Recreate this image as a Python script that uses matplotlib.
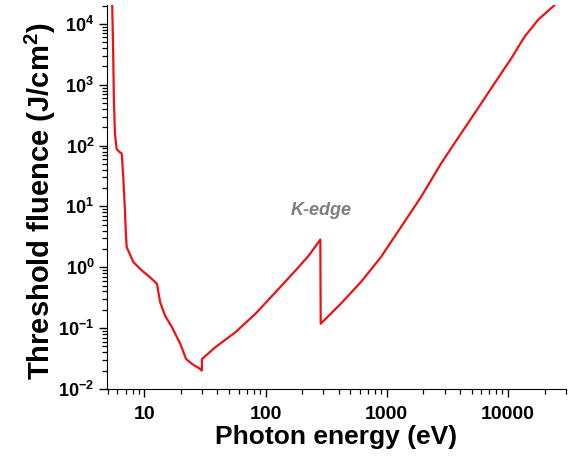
import matplotlib
matplotlib.use("Agg")
import matplotlib.pyplot as plt
from matplotlib.ticker import LogLocator, NullFormatter, FixedLocator, FuncFormatter

plt.rcParams["font.family"] = ["Liberation Sans", "DejaVu Sans"]
plt.rcParams["font.weight"] = "bold"
plt.rcParams["mathtext.fontset"] = "custom"
plt.rcParams["mathtext.rm"] = "Liberation Sans:bold"
plt.rcParams["mathtext.bf"] = "Liberation Sans:bold"
plt.rcParams["mathtext.default"] = "bf"

# threshold fluence vs photon energy
energy = [5.43, 5.53, 5.61, 5.72, 5.91, 6.18, 6.51, 6.70, 6.92, 7.02, 7.15,
          8.11, 9.51, 11.1, 12.7, 13.5, 14.8, 16.9, 19.8, 22.1, 24.7, 28.9,
          29.8, 29.9, 38.5, 56.4, 82.5, 121, 177, 228, 283,
          285, 417, 611, 894, 1310, 1915, 2805, 3614, 5297, 7745,
          10660, 13720, 17700, 24300]
fluence = [20600, 3740, 560, 160, 88, 80, 74, 30.6, 8.65, 4.05, 2.15,
           1.22, 0.889, 0.690, 0.537, 0.267, 0.161, 0.1035, 0.055, 0.031, 0.0258, 0.0213,
           0.020, 0.031, 0.0484, 0.0855, 0.172, 0.390, 0.889, 1.57, 2.85,
           0.118, 0.251, 0.570, 1.47, 4.59, 14.3, 50.9, 109, 339, 1059,
           2735, 6210, 11700, 20600]

xticks = [10, 100, 1000, 10000]
yticks = [1e-2, 1e-1, 1e0, 1e1, 1e2, 1e3, 1e4]
edge_label = "K-edge"
edge_pos = (290, 8.65)

fig = plt.figure(figsize=(5.71, 4.57), dpi=100)
ax = fig.add_axes([0.187, 0.149, 0.804, 0.840])

ax.plot(energy, fluence, color="#ee1111", linewidth=1.6)
ax.set_xscale("log")
ax.set_yscale("log")
ax.set_xlim(4.9, 30000)
ax.set_ylim(1e-2, 2.05e4)

ax.xaxis.set_major_locator(FixedLocator(xticks))
ax.xaxis.set_major_formatter(FuncFormatter(lambda v, p: f"{v:g}"))
ax.xaxis.set_minor_locator(LogLocator(base=10, subs=range(2, 10), numticks=20))
ax.xaxis.set_minor_formatter(NullFormatter())
ax.yaxis.set_major_locator(FixedLocator(yticks))
ax.yaxis.set_minor_locator(LogLocator(base=10, subs=range(2, 10), numticks=20))
ax.yaxis.set_minor_formatter(NullFormatter())

ax.tick_params(axis="x", which="major", labelsize=14, length=6, width=1, pad=6)
ax.tick_params(axis="y", which="major", labelsize=13, length=6, width=1, pad=3)
ax.tick_params(which="minor", length=3.5, width=0.9)

for side in ("top", "right"):
    ax.spines[side].set_visible(False)

ax.set_xlabel("Photon energy (eV)", fontsize=19, fontweight="bold", labelpad=2)
ax.set_ylabel("Threshold fluence (J/cm$^2$)", fontsize=21, fontweight="bold")
ax.yaxis.set_label_coords(-0.107, 0.49)

ax.text(edge_pos[0], edge_pos[1], edge_label, color="#7f7f7f", fontsize=13,
        fontweight="bold", fontstyle="italic", ha="center", va="center")

fig.savefig("out.png", dpi=100)
